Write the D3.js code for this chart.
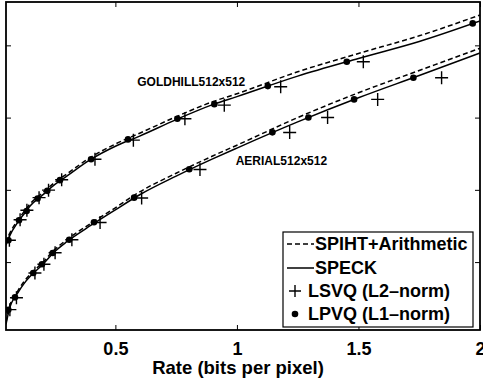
<!DOCTYPE html>
<html><head><meta charset="utf-8">
<script src="https://cdn.jsdelivr.net/npm/d3@7"></script>
<style>body{margin:0;background:#fff}svg{display:block}</style>
</head><body><svg id="c" width="483" height="379"></svg>
<script>
// ---- data ----
const rates = [0.05,0.0625,0.1,0.125,0.15,0.2,0.25,0.3,0.4,0.5,0.6,0.75,0.9,1.0,1.25,1.5,1.75,2.0];
const goldSpeck = [26.17,26.72,27.79,28.35,28.90,29.63,30.36,30.95,32.12,33.02,33.72,34.86,35.90,36.45,37.87,39.09,40.26,41.68];
const goldSpiht = [26.32,26.87,27.94,28.50,29.05,29.78,30.51,31.10,32.27,33.17,33.92,35.06,36.10,36.65,38.17,39.44,40.66,42.10];
const aerialSpeck = [20.69,21.66,22.91,23.53,24.02,24.81,25.72,26.41,27.55,28.62,29.66,30.95,32.14,32.89,34.70,36.37,37.91,39.47];
const aerialSpiht = [20.83,21.80,23.05,23.67,24.16,24.95,25.86,26.55,27.69,28.76,29.86,31.15,32.34,33.09,35.00,36.72,38.26,39.80];

const goldLpvqRate = [0.06,0.1035,0.135,0.180,0.220,0.272,0.400,0.552,0.755,0.907,1.127,1.452,1.970];
const goldLpvqPsnr = [26.51,27.90,28.54,29.40,29.93,30.67,32.12,33.49,34.92,35.93,37.18,38.86,41.52];
const goldLsvqRate = [0.064,0.108,0.136,0.186,0.225,0.279,0.416,0.574,0.786,0.948,1.180,1.520];
const goldLsvqPsnr = [26.51,27.93,28.59,29.46,29.98,30.70,32.12,33.44,34.92,35.86,37.13,38.86];

const aerialLpvqRate = [0.0595,0.087,0.162,0.198,0.242,0.310,0.412,0.577,0.804,1.146,1.294,1.482,1.726];
const aerialLpvqPsnr = [21.70,22.56,24.25,24.85,25.63,26.55,27.76,29.46,31.42,33.98,35.01,36.26,37.76];
const aerialLsvqRate = [0.066,0.093,0.169,0.206,0.252,0.321,0.437,0.608,0.848,1.217,1.373,1.579,1.842];
const aerialLsvqPsnr = [21.71,22.53,24.25,24.85,25.65,26.55,27.74,29.44,31.41,33.97,35.01,36.26,37.76];

const xTicks = [0.5, 1, 1.5, 2];
const xTickLabels = ["0.5", "1", "1.5", "2"];
const yTicks = [25, 30, 35, 40];
const xLabel = "Rate (bits per pixel)";
const curveLabels = ["GOLDHILL512x512", "AERIAL512x512"];
const legendLabels = ["SPIHT+Arithmetic", "SPECK", "LSVQ (L2\u2013norm)", "LPVQ (L1\u2013norm)"];

// ---- layout ----
const L = 6, R = 480, T = 2, B = 330;
const svg = d3.select("#c");
const x = d3.scaleLinear().domain([0.05, 2]).range([L, R]);
const y = d3.scaleLinear().domain([20.3, 43]).range([B, T]);
const font = "'Liberation Sans', Arial, Helvetica, sans-serif";

svg.append("defs").append("clipPath").attr("id","clip")
  .append("rect").attr("x",L).attr("y",T).attr("width",R-L).attr("height",B-T);

const plot = svg.append("g").attr("clip-path","url(#clip)");

const line = d3.line().x(d=>x(d[0])).y(d=>y(d[1])).curve(d3.curveMonotoneX);
function drawLine(vals, dashed){
  plot.append("path").datum(rates.map((r,i)=>[r, vals[i]]))
    .attr("d", line).attr("fill","none").attr("stroke","#000")
    .attr("stroke-width",1.5)
    .attr("stroke-dasharray", dashed ? "5,3" : null);
}
drawLine(goldSpiht, true); drawLine(goldSpeck, false);
drawLine(aerialSpiht, true); drawLine(aerialSpeck, false);

function plus(g, cx, cy, s){
  g.append("path").attr("d", `M${cx-s},${cy}H${cx+s}M${cx},${cy-s}V${cy+s}`)
    .attr("stroke","#000").attr("stroke-width",1.4).attr("fill","none");
}
goldLsvqRate.forEach((r,i)=>plus(plot, x(r), y(goldLsvqPsnr[i]), 6.5));
aerialLsvqRate.forEach((r,i)=>plus(plot, x(r), y(aerialLsvqPsnr[i]), 6.5));
goldLpvqRate.forEach((r,i)=>plot.append("circle").attr("cx",x(r)).attr("cy",y(goldLpvqPsnr[i])).attr("r",3.3).attr("fill","#000"));
aerialLpvqRate.forEach((r,i)=>plot.append("circle").attr("cx",x(r)).attr("cy",y(aerialLpvqPsnr[i])).attr("r",3.3).attr("fill","#000"));

// axes
const xb = svg.append("g").attr("transform",`translate(0,${B})`)
  .call(d3.axisBottom(x).tickValues(xTicks).tickSize(-5).tickFormat((d,i)=>xTickLabels[i]).tickPadding(12));
const xt = svg.append("g").attr("transform",`translate(0,${T})`)
  .call(d3.axisTop(x).tickValues(xTicks).tickSize(-5).tickFormat(""));
const yl = svg.append("g").attr("transform",`translate(${L},0)`)
  .call(d3.axisLeft(y).tickValues(yTicks).tickSize(-5).tickFormat(""));
const yr = svg.append("g").attr("transform",`translate(${R},0)`)
  .call(d3.axisRight(y).tickValues(yTicks).tickSize(-5).tickFormat(""));
[xb,xt,yl,yr].forEach(g=>{g.select(".domain").remove(); g.selectAll("line").attr("stroke","#000").attr("stroke-width",1);});
xb.selectAll("text").attr("font-family",font).attr("font-size",18).attr("font-weight","bold").attr("fill","#000");

svg.append("rect").attr("x",L).attr("y",T).attr("width",R-L).attr("height",B-T)
  .attr("fill","none").attr("stroke","#000").attr("stroke-width",1.8);

svg.append("text").attr("x",238).attr("y",374).attr("text-anchor","middle")
  .attr("font-family",font).attr("font-size",18.5).attr("font-weight","bold").text(xLabel);

// curve labels
svg.append("text").attr("x",x(0.59)).attr("y",y(37.2)).attr("font-family",font).attr("font-size",12).attr("font-weight","bold").text(curveLabels[0]);
svg.append("text").attr("x",x(0.995)).attr("y",y(31.7)).attr("font-family",font).attr("font-size",12).attr("font-weight","bold").text(curveLabels[1]);

// legend
const lg = svg.append("g");
const lx = 283, ly = 232, lw = 190, lh = 95;
lg.append("rect").attr("x",lx).attr("y",ly).attr("width",lw).attr("height",lh).attr("fill","#fff").attr("stroke","#000").attr("stroke-width",1.2);
const rowY = [244, 268, 291, 314];
lg.append("line").attr("x1",lx+4).attr("x2",lx+31).attr("y1",rowY[0]).attr("y2",rowY[0]).attr("stroke","#000").attr("stroke-width",1.5).attr("stroke-dasharray","5,3");
lg.append("line").attr("x1",lx+4).attr("x2",lx+31).attr("y1",rowY[1]).attr("y2",rowY[1]).attr("stroke","#000").attr("stroke-width",1.5);
plus(lg, lx+12, rowY[2], 6);
lg.append("circle").attr("cx",lx+12).attr("cy",rowY[3]).attr("r",3.3).attr("fill","#000");
legendLabels.forEach((t,i)=>{
  lg.append("text").attr("x", i<2 ? lx+32 : lx+25).attr("y",rowY[i]).attr("dy","0.36em")
    .attr("font-family",font).attr("font-size",18).attr("font-weight","bold").text(t);
});
</script></body></html>
